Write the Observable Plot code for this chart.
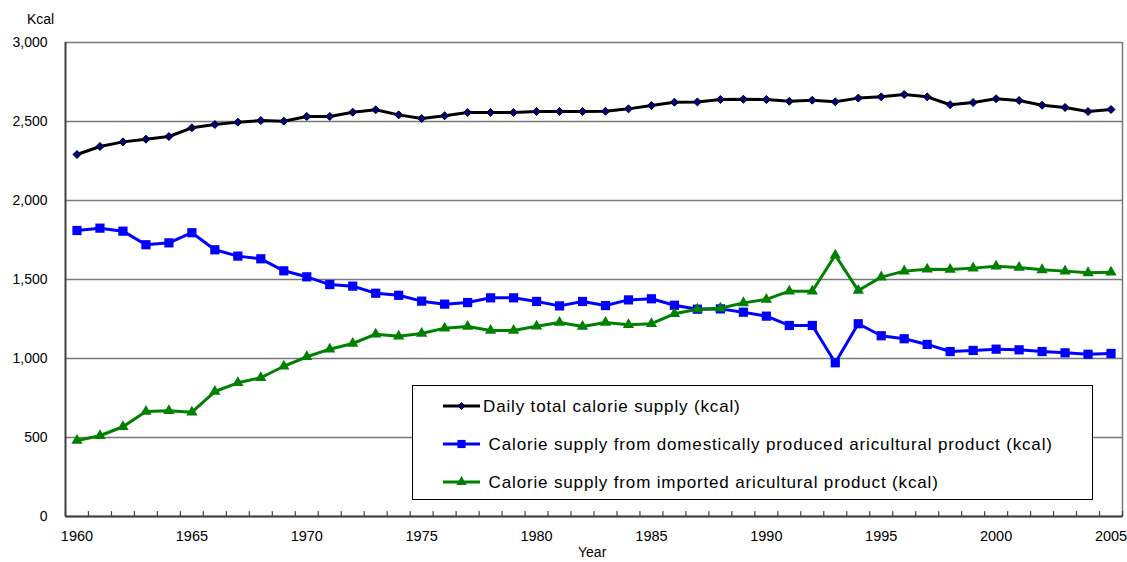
<!DOCTYPE html>
<html>
<head>
<meta charset="utf-8">
<script src="https://cdn.jsdelivr.net/npm/d3@7"></script>
<script src="https://cdn.jsdelivr.net/npm/@observablehq/plot@0.6"></script>
<style>
  html, body { margin: 0; padding: 0; background: #fff; }
  #wrap { position: relative; width: 1127px; height: 562px; overflow: hidden; font-family: "Liberation Sans", Arial, sans-serif; color: #000; }
  .lbl { position: absolute; font-size: 14px; line-height: 1; white-space: nowrap; }
  #legend { position: absolute; left: 412px; top: 385px; width: 679px; height: 113px; border: 1px solid #000; background: #fff; }
</style>
</head>
<body>
<div id="wrap"></div>
<script>
// ---- data ----
const years = d3.range(1960, 2006);
const totalSupply = [2291,2342,2371,2388,2405,2460,2481,2496,2506,2502,
                     2532,2532,2559,2574,2542,2519,2536,2557,2557,2557,
                     2563,2563,2563,2565,2580,2601,2622,2624,2639,2641,
                     2639,2628,2635,2625,2648,2656,2671,2656,2606,2620,
                     2644,2633,2603,2589,2563,2576];
const domesticSupply = [1810,1825,1806,1720,1732,1796,1688,1648,1631,1555,
                        1517,1468,1458,1413,1400,1363,1344,1354,1384,1384,
                        1361,1333,1361,1335,1371,1378,1337,1312,1314,1293,
                        1268,1209,1209,973,1220,1144,1125,1089,1044,1051,
                        1059,1055,1044,1036,1027,1032];
const importedSupply = [481,511,568,665,669,660,791,846,878,951,
                        1011,1059,1095,1154,1141,1158,1192,1203,1177,1177,
                        1204,1228,1203,1228,1213,1220,1283,1312,1318,1352,
                        1374,1426,1426,1654,1430,1515,1553,1565,1563,1572,
                        1584,1576,1561,1553,1542,1546];
const seriesNames = [
  "Daily total calorie supply (kcal)",
  " Calorie supply from domestically produced aricultural product (kcal)",
  " Calorie supply from imported aricultural product (kcal)"
];
const yTicks = [0, 500, 1000, 1500, 2000, 2500, 3000];
const xLabelYears = [1960, 1965, 1970, 1975, 1980, 1985, 1990, 1995, 2000, 2005];
const yUnit = "Kcal";
const xTitle = "Year";

// ---- build ----
const rows = years.map((y, i) => ({year: y, total: totalSupply[i], domestic: domesticSupply[i], imported: importedSupply[i]}));
const boundaries = years.map(y => y - 0.5).concat([years[years.length - 1] + 0.5]);
const tickShape = {draw(ctx, l) { ctx.moveTo(0, 0); ctx.lineTo(0, -l); }};

const chart = Plot.plot({
  width: 1127, height: 562,
  marginLeft: 65, marginRight: 5, marginTop: 42, marginBottom: 46,
  style: {fontFamily: "'Liberation Sans', Arial, sans-serif", fontSize: "14px", color: "#000", background: "#fff"},
  x: {type: "linear", domain: [boundaries[0], boundaries[boundaries.length - 1]]},
  y: {domain: [0, 3000]},
  marks: [
    Plot.gridY(yTicks, {stroke: "#7a7a7a", strokeOpacity: 1, strokeWidth: 1.5}),
    Plot.ruleX([boundaries[boundaries.length - 1]], {stroke: "#7a7a7a", strokeWidth: 1.5}),
    Plot.axisY(yTicks, {tickSize: 0, tickPadding: 18, tickFormat: d3.format(","), label: null, fontSize: 14}),
    Plot.axisX(xLabelYears, {tickSize: 0, tickPadding: 14, tickFormat: d => String(d), label: null, fontSize: 14.5}),
    Plot.vector(boundaries, {x: d => d, frameAnchor: "bottom", length: 5, rotate: 0, anchor: "start", shape: tickShape, stroke: "#404040", strokeWidth: 1.2}),
    Plot.ruleX([boundaries[0]], {stroke: "#404040", strokeWidth: 2}),
    Plot.ruleY([0], {stroke: "#404040", strokeWidth: 2}),
    Plot.line(rows, {x: "year", y: "total", stroke: "#000", strokeWidth: 3}),
    Plot.dot(rows, {x: "year", y: "total", symbol: "diamond2", r: 3.6, fill: "#000080", stroke: "#000", strokeWidth: 1}),
    Plot.line(rows, {x: "year", y: "domestic", stroke: "#0000ff", strokeWidth: 3}),
    Plot.dot(rows, {x: "year", y: "domestic", symbol: "square", r: 5.2, fill: "#0000ff", stroke: "none"}),
    Plot.line(rows, {x: "year", y: "imported", stroke: "#008000", strokeWidth: 3}),
    Plot.dot(rows, {x: "year", y: "imported", symbol: "triangle", r: 4.2, fill: "#008000", stroke: "none"})
  ]
});

const wrap = document.getElementById("wrap");
wrap.appendChild(chart);

const kcal = document.createElement("div");
kcal.className = "lbl"; kcal.textContent = yUnit;
kcal.style.left = "27px"; kcal.style.top = "12px";
wrap.appendChild(kcal);

const yearLbl = document.createElement("div");
yearLbl.className = "lbl"; yearLbl.textContent = xTitle;
yearLbl.style.left = "578px"; yearLbl.style.top = "545px";
wrap.appendChild(yearLbl);

// legend
const legend = document.createElement("div");
legend.id = "legend";
wrap.appendChild(legend);
const lsvg = d3.select(legend).append("svg").attr("width", 679).attr("height", 113)
  .style("position", "absolute").style("left", 0).style("top", 0)
  .style("font-family", "'Liberation Sans', Arial, sans-serif").style("font-size", "17px")
  .style("letter-spacing", "0.85px");
const legendStyles = [
  {color: "#000", fill: "#000080", stroke: "#000", sym: d3.symbolDiamond2, size: Math.PI * 3.2 * 3.2},
  {color: "#0000ff", fill: "#0000ff", stroke: "none", sym: d3.symbolSquare, size: Math.PI * 4.6 * 4.6},
  {color: "#008000", fill: "#008000", stroke: "none", sym: d3.symbolTriangle, size: Math.PI * 3.8 * 3.8}
];
seriesNames.forEach((name, i) => {
  const cy = 20 + i * 38;
  const st = legendStyles[i];
  const g = lsvg.append("g").attr("transform", `translate(0,${cy})`);
  g.append("line").attr("x1", 30).attr("x2", 67).attr("y1", 0).attr("y2", 0).attr("stroke", st.color).attr("stroke-width", 3);
  g.append("path").attr("transform", "translate(48.5,0)").attr("d", d3.symbol(st.sym, st.size)())
    .attr("fill", st.fill).attr("stroke", st.stroke).attr("stroke-width", 1);
  g.append("text").attr("x", 70).attr("y", 0).attr("dy", "0.35em").style("white-space", "pre").text(name);
});
</script>
</body>
</html>
